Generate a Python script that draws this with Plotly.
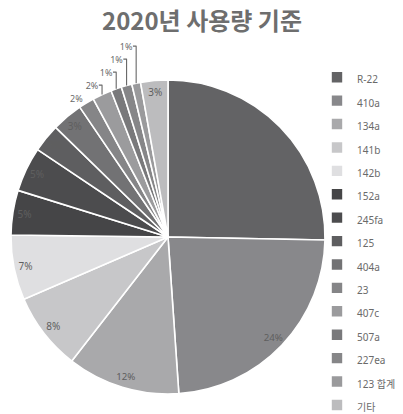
import plotly.graph_objects as go

categories = ["R-22", "410a", "134a", "141b", "142b", "152a", "245fa", "125",
              "404a", "23", "407c", "507a", "227ea", "123 합계", "기타"]
values = [25.3, 23.6, 11.6, 8.0, 6.7, 4.6, 4.6, 2.9, 3.2, 1.6, 2.0, 1.1, 1.1, 0.9, 2.8]
colors = ["#636365", "#88888b", "#a9a9ab", "#c7c7c9", "#dfdfe1", "#454547", "#4c4c4e",
          "#5e5e60", "#727274", "#858587", "#9b9b9d", "#79797b", "#868688", "#9a9a9c", "#bcbcbe"]
text_pos = ["inside", "inside", "inside", "inside", "inside", "inside", "inside", "inside",
            "inside", "outside", "outside", "outside", "outside", "outside", "inside"]
templates = [""] + ["%{percent:.0%}"] * (len(categories) - 1)

legend_labels = ['<span style="font-size:10px">%s</span>' % c for c in categories]

W, H = 403, 414


def px_x(x):
    return x / W


def px_y(y):
    return 1 - y / H


dom = dict(x=[px_x(11), px_x(325)], y=[px_y(394), px_y(80)])
fig = go.Figure()
# filled pie (legend + slices)
fig.add_trace(go.Pie(
    labels=legend_labels, values=values, sort=False, direction="clockwise", rotation=0,
    marker=dict(colors=colors, line=dict(color="white", width=1.6)),
    textinfo="none", domain=dom, hoverinfo="skip", showlegend=True,
))
# label layer: transparent ring so inside labels sit near the outer edge
fig.add_trace(go.Pie(
    labels=legend_labels, values=values, sort=False, direction="clockwise", rotation=0,
    hole=0.85,
    marker=dict(colors=["rgba(0,0,0,0)"] * len(values), line=dict(width=0)),
    texttemplate=templates, textposition=text_pos,
    insidetextorientation="horizontal",
    textfont=dict(family="Noto Sans, Noto Sans CJK KR", size=10, color="#5f5f5f"),
    outsidetextfont=dict(family="Noto Sans, Noto Sans CJK KR", size=9, color="#6a6a6a"),
    domain=dom, hoverinfo="label+percent", showlegend=False,
))

fig.update_layout(
    width=W, height=H,
    margin=dict(l=0, r=0, t=0, b=0, autoexpand=False),
    paper_bgcolor="white",
    plot_bgcolor="white",
    title=dict(text="<b>2020년 사용량 기준</b>", x=px_x(202), xanchor="center",
               y=px_y(22), yanchor="middle",
               font=dict(family="Noto Sans CJK KR", size=24, color="#6e6e6e")),
    legend=dict(x=px_x(317), xanchor="left", y=px_y(60.5), yanchor="top",
                font=dict(family="Noto Sans, Noto Sans CJK KR", size=15.7, color="#6a6a6a"),
                bgcolor="rgba(0,0,0,0)", borderwidth=0),
    showlegend=True,
)

fig.write_html("out.html", config={"displayModeBar": False},
               post_script="document.body.style.margin='0px';")
